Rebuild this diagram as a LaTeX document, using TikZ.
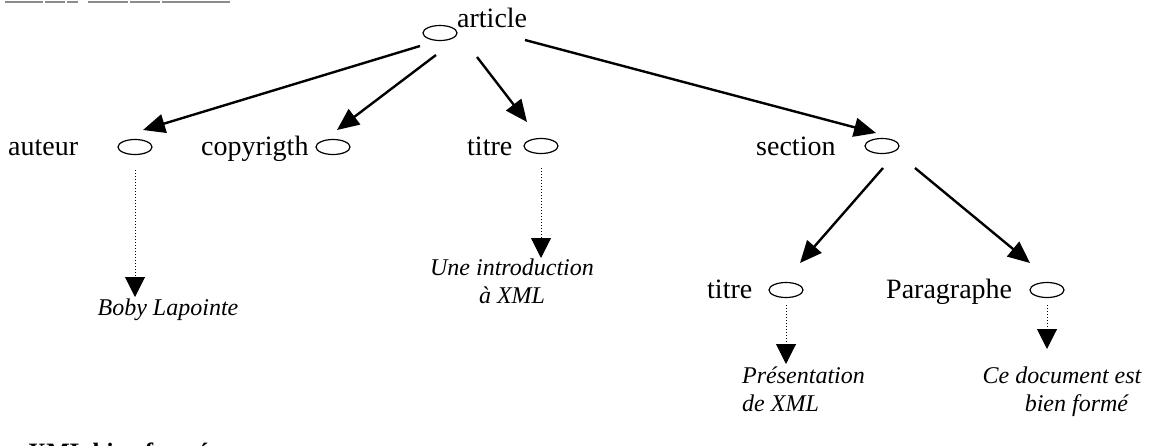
\documentclass[tikz,border=0pt]{standalone}
\usepackage{fontspec}
\setmainfont{Liberation Serif}
\usetikzlibrary{arrows.meta,shapes.geometric,calc}
\begin{document}
\begin{tikzpicture}[x=1pt,y=-1pt,
  ell/.style={draw, ellipse, minimum width=34pt, minimum height=15pt, inner sep=0pt, line width=1.2pt},
  lbl/.style={font=\fontsize{28}{30}\selectfont, inner sep=0pt, anchor=base west},
  leaf/.style={font=\fontsize{24}{28}\selectfont\itshape, inner sep=0pt, align=center, anchor=north},
  arr/.style={-{Triangle[length=22pt,width=19pt]}, line width=2.4pt},
  dotarr/.style={dotted, line width=1pt, -{Triangle[length=20pt,width=20pt]}},
  frag/.style={draw=black!45, line width=1.5pt}]
\useasboundingbox (0,0) rectangle (1156,445);
\clip (0,0) rectangle (1156,445);
\fill[white] (0,0) rectangle (1156,445);

% scan fragments at the top
\draw[frag] (5,2) -- (43,2);
\draw[frag] (45,2) -- (65,2);
\draw[frag] (67,2) -- (78,2);
\draw[frag] (88,2) -- (128,2);
\draw[frag] (130,2) -- (160,2);
\draw[frag] (162,2) -- (230,2);

% nodes
\node[ell] (art) at (440,33) {};
\node[lbl] (artt) at (457,27) {article};

\node[ell] (aut) at (135,147) {};
\node[lbl] (autt) at (8,155) {auteur};
\node[ell] (cop) at (333,147) {};
\node[lbl] (copt) at (201,155) {copyrigth};
\node[ell] (tit) at (541,146) {};
\node[lbl] (titt) at (467,155) {titre};
\node[ell] (sec) at (882,146) {};
\node[lbl] (sect) at (756,155) {section};

\node[ell] (tit2) at (786,290) {};
\node[lbl] (tit2t) at (707,298) {titre};
\node[ell] (par) at (1047,290) {};
\node[lbl] (part) at (886,298) {Paragraphe};

\node[leaf] (boby) at (168,299) {Boby Lapointe};
\node[leaf] (intro) at (512,259) {Une introduction\\à XML};
\node[leaf, align=left, anchor=north west] (pres) at (742,367) {Présentation\\de XML};
\node[leaf] (ce) at (1062,367) {Ce document est\\\hspace*{1.2em}bien formé};

% caption cut at the bottom edge
\node[font=\fontsize{25}{28}\selectfont\bfseries, inner sep=0pt, anchor=base west] (cap) at (28,460) {XML bien formé};

% connectors
\draw[arr] ([shift={(-20,13)}]art.center) -- ([shift={(8,-17)}]aut.center);
\draw[arr] ([shift={(-4,22)}]art.center) -- ([shift={(4,-17)}]cop.center);
\draw[arr] ([shift={(37,24)}]art.center) -- ([shift={(-14,-24)}]tit.center);
\draw[arr] ([shift={(85,7)}]art.center) -- ([shift={(-6,-13)}]sec.center);
\draw[arr] ([shift={(1,22)}]sec.center) -- ([shift={(14,-27)}]tit2.center);
\draw[arr] ([shift={(33,22)}]sec.center) -- ([shift={(-17,-27)}]par.center);

\draw[dotarr] ([shift={(0,23)}]aut.center) -- ([shift={(0,150)}]aut.center);
\draw[dotarr] ([shift={(0,22)}]tit.center) -- ([shift={(0,112)}]tit.center);
\draw[dotarr] ([shift={(0,15)}]tit2.center) -- ([shift={(0,74)}]tit2.center);
\draw[dotarr] ([shift={(0,15)}]par.center) -- ([shift={(0,59)}]par.center);
\end{tikzpicture}
\end{document}
